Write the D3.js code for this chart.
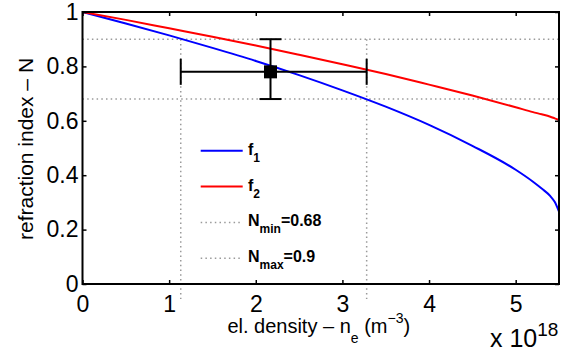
<!DOCTYPE html>
<html>
<head>
<meta charset="utf-8">
<script src="https://cdn.jsdelivr.net/npm/d3@7"></script>
<style>
  body { margin: 0; background: #fff; }
  text { font-family: "Liberation Sans", Arial, sans-serif; fill: #000; }
</style>
</head>
<body>
<div id="viz"></div>
<script>
// Data
const density = [0, 0.5, 1, 1.5, 2, 2.5, 3, 3.5, 4, 4.5, 5, 5.2, 5.3, 5.4, 5.45, 5.5];
const f1 = [1, 0.958, 0.914, 0.868, 0.820, 0.768, 0.712, 0.652, 0.585, 0.508, 0.420, 0.376, 0.351, 0.323, 0.302, 0.266];
const f2 = [1, 0.971, 0.940, 0.909, 0.877, 0.843, 0.808, 0.772, 0.733, 0.693, 0.650, 0.632, 0.624, 0.615, 0.609, 0.603];
// N limits and density limits (dotted lines)
const nLimits = [0.68, 0.9];
const neLimits = [1.134, 3.28];
// measured point with error bars: [low, value, high]
const errNe = [1.134, 2.17, 3.28];
const errN = [0.68, 0.78, 0.9];
// ticks
const neTicks = [0, 1, 2, 3, 4, 5];
const neTickLabels = ["0", "1", "2", "3", "4", "5"];
const nTicks = [0, 0.2, 0.4, 0.6, 0.8, 1];
const nTickLabels = ["0", "0.2", "0.4", "0.6", "0.8", "1"];

const width = 573, height = 360;
const plot = {left: 82.5, right: 559, top: 12, bottom: 284};
const tickLen = 4;
const dotted = "1.5,3.2";
const dotColor = "#9a9a9a";

const svg = d3.select("#viz").append("svg")
  .attr("width", width).attr("height", height);

const x = d3.scaleLinear().domain([0, 5.5]).range([plot.left, plot.right]);
const y = d3.scaleLinear().domain([0, 1]).range([plot.bottom, plot.top]);

// dotted guide lines
nLimits.forEach(v => {
  svg.append("line")
    .attr("x1", x(0)).attr("x2", x(5.5))
    .attr("y1", y(v)).attr("y2", y(v))
    .attr("stroke", dotColor).attr("stroke-width", 1.5)
    .attr("stroke-dasharray", dotted);
});
neLimits.forEach(v => {
  svg.append("line")
    .attr("x1", x(v)).attr("x2", x(v))
    .attr("y1", y(0.9)).attr("y2", y(-0.055))
    .attr("stroke", dotColor).attr("stroke-width", 1.5)
    .attr("stroke-dasharray", dotted);
});

// curves
const pts1 = density.map((d, i) => [d, f1[i]]);
const pts2 = density.map((d, i) => [d, f2[i]]);
const line = d3.line().x(d => x(d[0])).y(d => y(d[1])).curve(d3.curveMonotoneX);

svg.append("path").attr("d", line(pts1))
  .attr("fill", "none").attr("stroke", "#0000ff").attr("stroke-width", 2);
svg.append("path").attr("d", line(pts2))
  .attr("fill", "none").attr("stroke", "#ff0000").attr("stroke-width", 2);

// error bar
const eb = svg.append("g").attr("stroke", "#000").attr("stroke-width", 2);
eb.append("line")
  .attr("x1", x(errNe[0])).attr("x2", x(errNe[2]))
  .attr("y1", y(errN[1])).attr("y2", y(errN[1]));
eb.append("line")
  .attr("x1", x(errNe[1])).attr("x2", x(errNe[1]))
  .attr("y1", y(errN[0])).attr("y2", y(errN[2]));
[errNe[0], errNe[2]].forEach(v => {
  eb.append("line")
    .attr("x1", x(v)).attr("x2", x(v))
    .attr("y1", y(errN[1]) - 13).attr("y2", y(errN[1]) + 13);
});
[errN[0], errN[2]].forEach(v => {
  eb.append("line")
    .attr("x1", x(errNe[1]) - 11).attr("x2", x(errNe[1]) + 11)
    .attr("y1", y(v)).attr("y2", y(v));
});
svg.append("rect")
  .attr("x", x(errNe[1]) - 6.5).attr("y", y(errN[1]) - 6.5)
  .attr("width", 13).attr("height", 13).attr("fill", "#000");

// axes (ticks pointing inward)
function styleAxis(g) {
  g.select(".domain").remove();
  g.selectAll(".tick line").attr("stroke", "#000").attr("stroke-width", 1.5);
  g.selectAll(".tick text").attr("font-size", 23).attr("fill", "#000")
    .attr("font-family", "Liberation Sans, Arial, sans-serif");
}
svg.append("g").attr("transform", "translate(0," + plot.bottom + ")")
  .call(d3.axisBottom(x).tickValues(neTicks)
    .tickFormat((d, i) => neTickLabels[i])
    .tickSizeInner(-tickLen).tickSizeOuter(0).tickPadding(12))
  .call(styleAxis);
svg.append("g").attr("transform", "translate(0," + plot.top + ")")
  .call(d3.axisTop(x).tickValues(neTicks).tickFormat("")
    .tickSizeInner(-tickLen).tickSizeOuter(0))
  .call(styleAxis);
svg.append("g").attr("transform", "translate(" + plot.left + ",0)")
  .call(d3.axisLeft(y).tickValues(nTicks)
    .tickFormat((d, i) => nTickLabels[i])
    .tickSizeInner(-tickLen).tickSizeOuter(0).tickPadding(4))
  .call(styleAxis);
svg.append("g").attr("transform", "translate(" + plot.right + ",0)")
  .call(d3.axisRight(y).tickValues(nTicks).tickFormat("")
    .tickSizeInner(-tickLen).tickSizeOuter(0))
  .call(styleAxis);

// plot box
svg.append("rect")
  .attr("x", plot.left).attr("y", plot.top)
  .attr("width", plot.right - plot.left).attr("height", plot.bottom - plot.top)
  .attr("fill", "none").attr("stroke", "#000").attr("stroke-width", 2);

// axis labels
const xl = svg.append("text")
  .attr("x", (plot.left + plot.right) / 2 - 2).attr("y", 333)
  .attr("text-anchor", "middle").attr("font-size", 20);
xl.append("tspan").text("el. density \u2013 n");
xl.append("tspan").attr("font-size", 14).attr("dy", 10).text("e");
xl.append("tspan").attr("dy", -10).text(" (m");
xl.append("tspan").attr("font-size", 14).attr("dy", -10).text("\u22123");
xl.append("tspan").attr("dy", 10).text(")");

svg.append("text")
  .attr("transform", "translate(33," + ((plot.top + plot.bottom) / 2 + 1) + ") rotate(-90)")
  .attr("text-anchor", "middle").attr("font-size", 21)
  .text("refraction index \u2013 N");

const ex = svg.append("text").attr("x", 490).attr("y", 347).attr("font-size", 25);
ex.append("tspan").text("x 10");
ex.append("tspan").attr("font-size", 19).attr("dy", -11).text("18");

// legend
const legend = [
  {main: "f", sub: "1", rest: "", color: "#0000ff", dash: null},
  {main: "f", sub: "2", rest: "", color: "#ff0000", dash: null},
  {main: "N", sub: "min", rest: "=0.68", color: dotColor, dash: dotted},
  {main: "N", sub: "max", rest: "=0.9", color: dotColor, dash: dotted}
];
const legY = d3.scaleLinear().domain([0, 3]).range([150.7, 258.3]);
legend.forEach((d, i) => {
  const ly = legY(i);
  svg.append("line")
    .attr("x1", 200.7).attr("x2", 242.7).attr("y1", ly).attr("y2", ly)
    .attr("stroke", d.color).attr("stroke-width", d.dash ? 1.5 : 2)
    .attr("stroke-dasharray", d.dash);
  const t = svg.append("text").attr("x", 248).attr("y", ly + 4)
    .attr("font-size", 16).attr("font-weight", "bold");
  t.append("tspan").text(d.main);
  t.append("tspan").attr("font-size", 12).attr("dy", 7).text(d.sub);
  if (d.rest) t.append("tspan").attr("dy", -7).text(d.rest);
});
</script>
</body>
</html>
